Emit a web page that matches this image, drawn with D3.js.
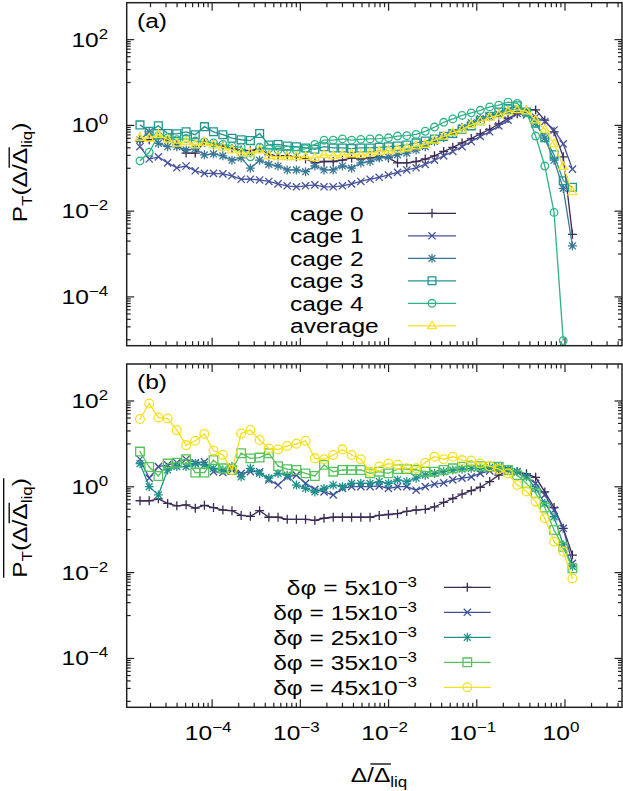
<!DOCTYPE html>
<html><head><meta charset="utf-8">
<script src="https://cdn.jsdelivr.net/npm/d3@7"></script>
<style>
html,body{margin:0;padding:0;background:#fff;}
svg text{font-family:"Liberation Sans",Arial,Helvetica,sans-serif;fill:#000;}
</style></head><body>
<svg id="chart" width="623" height="791" xmlns="http://www.w3.org/2000/svg"></svg>
<script>
// ---------------- data ----------------
const xValues = [1.54e-5,1.96e-5,2.49e-5,3.17e-5,4.03e-5,5.13e-5,6.52e-5,8.28e-5,1.05e-4,1.34e-4,1.70e-4,2.16e-4,2.75e-4,3.50e-4,4.45e-4,5.66e-4,7.19e-4,9.14e-4,1.16e-3,1.48e-3,1.88e-3,2.39e-3,3.04e-3,3.86e-3,4.91e-3,6.25e-3,7.94e-3,1.01e-2,1.28e-2,1.63e-2,2.08e-2,2.64e-2,3.36e-2,4.27e-2,5.42e-2,6.90e-2,8.77e-2,0.111,0.142,0.180,0.229,0.291,0.371,0.471,0.598,0.762,0.968,1.23];

const cage0 = [0.42,0.45,0.50,0.45,0.35,0.22,0.22,0.40,0.35,0.32,0.28,0.26,0.25,0.28,0.20,0.19,0.19,0.18,0.16,0.13,0.14,0.14,0.15,0.17,0.16,0.17,0.18,0.17,0.13,0.13,0.14,0.16,0.19,0.24,0.30,0.38,0.48,0.62,0.79,1.05,1.41,1.82,2.24,2.24,1.29,0.69,0.18,0.0028];
const cage1 = [0.31,0.16,0.18,0.13,0.10,0.11,0.085,0.074,0.074,0.072,0.065,0.054,0.054,0.052,0.048,0.042,0.038,0.036,0.038,0.040,0.036,0.036,0.038,0.042,0.048,0.054,0.060,0.068,0.078,0.089,0.10,0.12,0.15,0.19,0.24,0.31,0.41,0.54,0.69,0.95,1.29,1.86,1.70,1.51,1.20,0.76,0.36,0.093];
const cage2 = [0.45,0.69,0.37,0.31,0.31,0.26,0.28,0.20,0.21,0.19,0.15,0.17,0.098,0.15,0.12,0.11,0.089,0.089,0.081,0.11,0.089,0.089,0.11,0.098,0.13,0.14,0.17,0.18,0.20,0.22,0.26,0.31,0.41,0.51,0.66,0.87,1.12,1.41,1.55,1.78,2.09,2.24,1.91,1.10,0.49,0.15,0.033,0.0015];
const cage3 = [1.0,0.71,0.95,0.63,0.62,0.69,0.59,0.91,0.69,0.59,0.49,0.45,0.43,0.63,0.34,0.35,0.32,0.31,0.29,0.27,0.31,0.29,0.29,0.28,0.29,0.29,0.30,0.31,0.32,0.34,0.38,0.42,0.47,0.54,0.63,0.79,0.95,1.26,1.58,2.0,2.4,2.8,2.0,1.1,0.50,0.20,0.050,0.035];
const cage4 = [0.145,0.23,0.56,0.50,0.45,0.48,0.42,0.40,0.38,0.35,0.32,0.30,0.18,0.30,0.28,0.26,0.26,0.25,0.28,0.35,0.44,0.44,0.47,0.44,0.46,0.47,0.48,0.50,0.55,0.56,0.60,0.71,0.89,1.15,1.38,1.66,1.91,2.19,2.63,2.88,3.39,3.16,2.0,0.55,0.11,0.0091,0.0000093,null];
const cageAverage = [0.51,0.49,0.59,0.46,0.37,0.41,0.34,0.39,0.34,0.30,0.26,0.22,0.22,0.26,0.19,0.18,0.18,0.18,0.18,0.17,0.20,0.19,0.20,0.21,0.20,0.22,0.24,0.25,0.27,0.29,0.32,0.35,0.44,0.54,0.66,0.79,1.0,1.20,1.48,1.70,2.04,2.24,2.09,1.29,0.79,0.36,0.107,0.0275];

const dphi5  = [0.46,0.46,0.51,0.40,0.35,0.37,0.31,0.36,0.32,0.28,0.27,0.21,0.20,0.27,0.19,0.19,0.17,0.17,0.17,0.16,0.18,0.19,0.19,0.19,0.19,0.19,0.21,0.22,0.23,0.26,0.28,0.29,0.33,0.42,0.52,0.66,0.79,0.95,1.29,1.82,2.29,2.19,1.95,1.62,0.74,0.32,0.105,0.025];
const dphi15 = [4.27,1.55,2.88,3.16,3.55,4.27,3.55,3.72,2.19,2.09,2.40,2.0,2.19,2.19,1.41,1.07,1.66,1.82,1.17,0.85,0.74,0.63,0.89,0.98,0.98,0.98,1.02,0.89,0.98,0.98,0.81,0.98,1.12,1.20,1.41,1.55,1.66,2.0,2.29,2.40,2.40,2.19,1.66,1.17,0.63,0.28,0.105,0.016];
const dphi25 = [3.39,0.98,0.63,2.40,2.88,2.88,3.39,3.16,2.63,2.40,2.88,1.66,2.63,2.0,1.55,2.0,1.82,1.07,0.89,0.74,0.89,1.07,0.98,1.17,1.17,1.17,1.29,1.17,1.41,1.29,1.55,1.82,2.0,2.19,2.40,2.51,2.63,2.63,2.75,2.88,2.51,2.19,1.66,0.89,0.40,0.195,0.043,0.0135];
const dphi35 = [6.46,2.82,1.74,3.39,3.55,4.27,2.09,2.09,4.07,2.63,2.40,5.89,4.47,4.68,5.89,2.95,2.51,2.40,2.0,1.74,3.16,2.19,2.40,2.40,2.40,2.0,2.19,2.0,2.51,2.51,2.40,2.19,2.19,2.40,2.63,2.88,2.95,2.95,2.88,2.88,2.40,1.82,1.17,0.69,0.32,0.095,0.039,0.0123];
const dphi45 = [37,85,40,38,20.4,9.1,11.5,16.6,6.8,5.4,2.4,17.0,20.4,12.0,7.6,7.2,8.7,9.8,11.5,4.47,4.27,5.37,7.24,5.37,4.27,2.19,2.88,3.39,3.16,2.63,2.63,3.55,4.90,4.27,4.90,4.07,3.98,3.39,2.95,2.51,2.0,1.07,0.76,0.44,0.18,0.051,0.030,0.0071];

const namesA = ["cage 0","cage 1","cage 2","cage 3","cage 4","average"];
const namesB = ["5","15","25","35","45"];   // δφ in units of 10^-3
const xTickExps = [-4,-3,-2,-1,0];
const yTickExps = [-4,-2,0,2];

// ---------------- styles ----------------
const colorsA = ["#3b2a52","#46529a","#3a7898","#23978f","#2eb386","#f7e32b"];
const markersA = ["plus","cross","star","square","circle","triangle"];
const colorsB = ["#3b2a52","#3e4f9a","#20908c","#55c35b","#f5e11b"];
const markersB = ["plus","cross","star","square","circle"];

const SX = 1.17, FS = 21, FSS = 14.5;
const plotLeft = 126.7, plotRight = 622;
const panelA = {top: 2.7, bottom: 345.7};
const panelB = {top: 364, bottom: 707.3};

const svg = d3.select("#chart");
const x = d3.scaleLog().domain([Math.pow(10,-4.963), Math.pow(10,0.652)]).range([plotLeft, plotRight]);
const yA = d3.scaleLog().domain([Math.pow(10,-5.15), Math.pow(10,2.85)]).range([panelA.bottom, panelA.top]);
const yB = d3.scaleLog().domain([Math.pow(10,-5.15), Math.pow(10,2.85)]).range([panelB.bottom, panelB.top]);

function markerPath(type, big) {
  const s = big ? 4.3 : 3.9;
  switch (type) {
    case "plus": return "M-4.5,0H4.5M0,-4.5V4.5";
    case "cross": return "M-3.6,-3.6L3.6,3.6M-3.6,3.6L3.6,-3.6";
    case "star": return "M-4.5,0H4.5M0,-4.5V4.5M-3.4,-3.4L3.4,3.4M-3.4,3.4L3.4,-3.4";
    case "square": return `M${-s},${-s}H${s}V${s}H${-s}Z`;
    case "circle": return d3.arc()({innerRadius:0, outerRadius:s, startAngle:0, endAngle:2*Math.PI});
    case "triangle": return "M0,-4.8L4.4,2.8L-4.4,2.8Z";
  }
}
function drawMarker(g, type, color, cx, cy, big) {
  const p = g.append("path").attr("transform", `translate(${cx},${cy})`)
    .attr("d", type === "circle" ? null : markerPath(type, big))
    .attr("fill", "none").attr("stroke", color).attr("stroke-width", 1.3);
  if (type === "circle") {
    p.remove();
    g.append("circle").attr("cx", cx).attr("cy", cy).attr("r", big ? 4.4 : 3.8)
      .attr("fill", "none").attr("stroke", color).attr("stroke-width", 1.3);
  }
  if (big && (type === "circle" || type === "square")) {
    g.append("circle").attr("cx", cx).attr("cy", cy).attr("r", 0.7).attr("fill", color);
  }
}

function drawSeries(g, y, vals, color, marker, big) {
  const pts = vals.map((v, i) => [xValues[i], v]).filter(d => d[1] != null);
  g.append("path").datum(pts)
    .attr("d", d3.line().x(d => x(d[0])).y(d => y(d[1])))
    .attr("fill", "none").attr("stroke", color).attr("stroke-width", 1.3);
  pts.forEach(d => drawMarker(g, marker, color, x(d[0]), y(d[1]), big));
}

function powText(g, px, py, exp, anchor) {
  const t = g.append("text").attr("transform", `translate(${px},${py}) scale(${SX},1)`)
    .attr("text-anchor", anchor).style("font-size", FS + "px");
  t.append("tspan").text("10");
  t.append("tspan").attr("dy", -8).style("font-size", FSS + "px")
    .text(exp < 0 ? "\u2212" + (-exp) : String(exp));
  return t;
}

const xMajor = xTickExps.map(e => Math.pow(10, e));
const xMinor = [];
for (let e = -5; e <= 0; e++) for (let m = 2; m <= 9; m++) {
  const v = m * Math.pow(10, e);
  if (v > x.domain()[0] && v < x.domain()[1]) xMinor.push(v);
}
const yMajor = yTickExps.map(e => Math.pow(10, e));
const yMinor = [];
for (let e = -6; e <= 2; e += 2) for (let m = 1; m <= 9; m++) {
  const v = m * 10 * Math.pow(10, e);
  if (v > yA.domain()[0] && v < yA.domain()[1]) yMinor.push(v);
}

function drawFrame(panel, y, showXLabels) {
  const g = svg.append("g");
  const tickStyle = sel => { sel.select(".domain").remove(); sel.selectAll("line").attr("stroke", "#222").attr("stroke-width", 1.2); };
  g.append("g").attr("transform", `translate(0,${panel.bottom})`).call(d3.axisBottom(x).tickValues(xMajor).tickSize(-8).tickFormat("")).call(tickStyle);
  g.append("g").attr("transform", `translate(0,${panel.bottom})`).call(d3.axisBottom(x).tickValues(xMinor).tickSize(-4.5).tickFormat("")).call(tickStyle);
  g.append("g").attr("transform", `translate(0,${panel.top})`).call(d3.axisTop(x).tickValues(xMajor).tickSize(-8).tickFormat("")).call(tickStyle);
  g.append("g").attr("transform", `translate(0,${panel.top})`).call(d3.axisTop(x).tickValues(xMinor).tickSize(-4.5).tickFormat("")).call(tickStyle);
  g.append("g").attr("transform", `translate(${plotLeft},0)`).call(d3.axisLeft(y).tickValues(yMajor).tickSize(-7.5).tickFormat("")).call(tickStyle);
  g.append("g").attr("transform", `translate(${plotLeft},0)`).call(d3.axisLeft(y).tickValues(yMinor).tickSize(-4).tickFormat("")).call(tickStyle);
  g.append("g").attr("transform", `translate(${plotRight},0)`).call(d3.axisRight(y).tickValues(yMajor).tickSize(-7.5).tickFormat("")).call(tickStyle);
  g.append("g").attr("transform", `translate(${plotRight},0)`).call(d3.axisRight(y).tickValues(yMinor).tickSize(-4).tickFormat("")).call(tickStyle);
  g.append("rect").attr("x", plotLeft).attr("y", panel.top).attr("width", plotRight - plotLeft).attr("height", panel.bottom - panel.top)
    .attr("fill", "none").attr("stroke", "#222").attr("stroke-width", 1.5);
  yTickExps.forEach(e => powText(g, plotLeft - 18.5, y(Math.pow(10, e)) + 7.5, e, "end"));
  if (showXLabels) xTickExps.forEach(e => powText(g, x(Math.pow(10, e)) - 3.5, panel.bottom + 33, e, "middle"));
}

// builds P_T(Δ/Δ̄_liq) or Δ/Δ̄_liq inside a transformed group and draws the bar over Δ
function deltaLabel(g, withP) {
  const t = g.append("text").attr("text-anchor", "middle").style("font-size", FS + "px");
  if (withP) {
    t.append("tspan").text("P");
    t.append("tspan").attr("dy", 5).style("font-size", FSS + "px").text("T");
    t.append("tspan").attr("dy", -5).text("(\u0394/");
  } else {
    t.append("tspan").text("\u0394/");
  }
  const bar = t.append("tspan").text("\u0394");
  t.append("tspan").attr("dy", 5).style("font-size", FSS + "px").text("liq");
  if (withP) t.append("tspan").attr("dy", -5).text(")");
  const ext = bar.node().getExtentOfChar(0);
  g.append("line").attr("x1", ext.x - 3).attr("x2", ext.x + ext.width + 0.5)
    .attr("y1", -17.5).attr("y2", -17.5).attr("stroke", "#000").attr("stroke-width", 1.3);
  return t;
}

// ---------------- panel (a) ----------------
drawFrame(panelA, yA, false);
const seriesA = [cage0, cage1, cage2, cage3, cage4, cageAverage];
const gA = svg.append("g");
seriesA.forEach((vals, i) => drawSeries(gA, yA, vals, colorsA[i], markersA[i], false));

const legA = svg.append("g");
namesA.forEach((n, i) => {
  const cy = 213.3 + i * 22.5;
  legA.append("text").attr("transform", `translate(290,${cy + 7.6}) scale(${SX},1)`).style("font-size", FS + "px").text(n);
  legA.append("line").attr("x1", 408).attr("x2", 456).attr("y1", cy).attr("y2", cy).attr("stroke", colorsA[i]).attr("stroke-width", 1.3);
  drawMarker(legA, markersA[i], colorsA[i], 432, cy, false);
});
svg.append("text").attr("transform", `translate(137,28) scale(${SX},1)`).style("font-size", FS + "px").text("(a)");

const ylabA = svg.append("g").attr("transform", `translate(26.7,172.5) rotate(-90) scale(${SX},1)`);
deltaLabel(ylabA, true);

// ---------------- panel (b) ----------------
drawFrame(panelB, yB, true);
const seriesB = [dphi5, dphi15, dphi25, dphi35, dphi45];
const gB = svg.append("g");
seriesB.forEach((vals, i) => drawSeries(gB, yB, vals, colorsB[i], markersB[i], true));

const legB = svg.append("g");
namesB.forEach((n, i) => {
  const cy = 587.3 + i * 25;
  const t = legB.append("text").attr("transform", `translate(417,${cy + 7.7}) scale(${SX},1)`)
    .attr("text-anchor", "end").style("font-size", FS + "px");
  t.append("tspan").text(`\u03B4\u03C6 = ${n}x10`);
  t.append("tspan").attr("dy", -8.3).style("font-size", FSS + "px").text("\u22123");
  legB.append("line").attr("x1", 444).attr("x2", 490.7).attr("y1", cy).attr("y2", cy).attr("stroke", colorsB[i]).attr("stroke-width", 1.3);
  drawMarker(legB, markersB[i], colorsB[i], 467.3, cy, true);
});
svg.append("text").attr("transform", `translate(137,389) scale(${SX},1)`).style("font-size", FS + "px").text("(b)");

const ylabB = svg.append("g").attr("transform", `translate(26.7,528) rotate(-90) scale(${SX},1)`);
const tB = deltaLabel(ylabB, true);
const bb = tB.node().getBBox();
ylabB.append("line").attr("x1", bb.x).attr("x2", bb.x + bb.width).attr("y1", -23).attr("y2", -23)
  .attr("stroke", "#000").attr("stroke-width", 1.3);

// x axis title
const xlab = svg.append("g").attr("transform", `translate(379,781.5) scale(${SX},1)`);
deltaLabel(xlab, false);
</script>
</body></html>
